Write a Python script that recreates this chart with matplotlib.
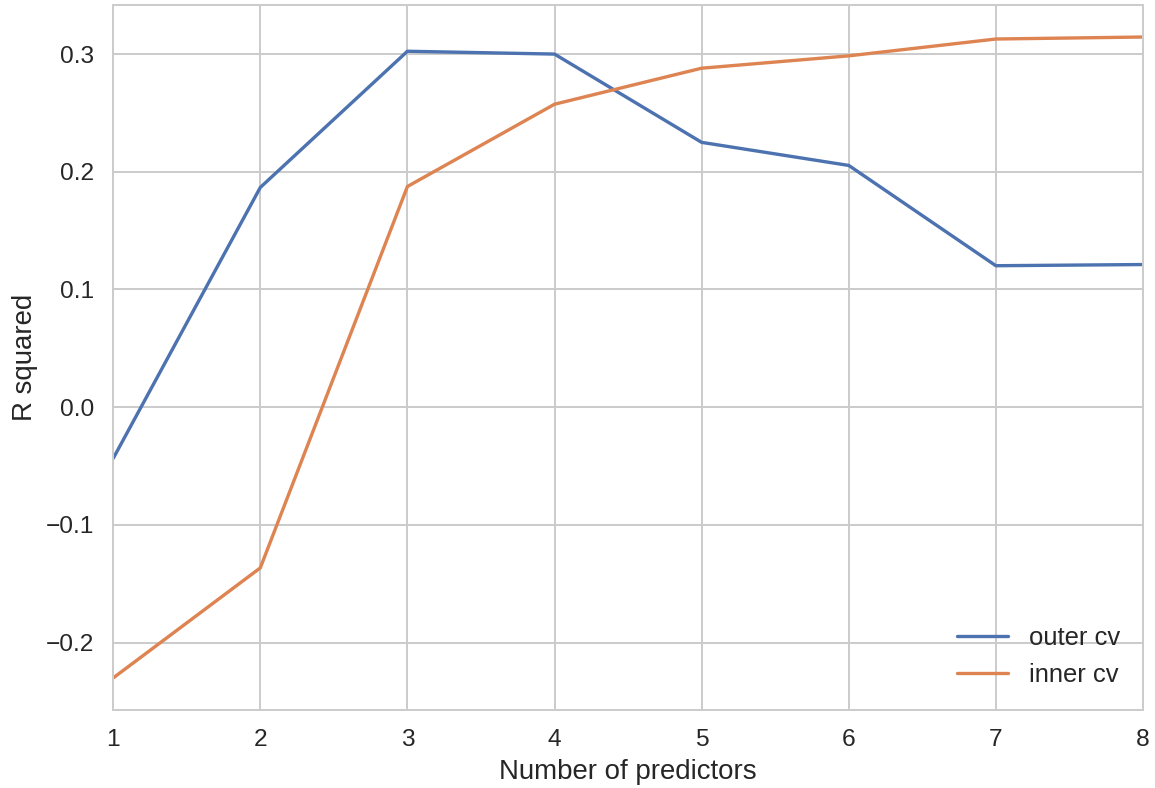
import numpy as np
import matplotlib.pyplot as plt
import seaborn as sns

n_predictors = [1, 2, 3, 4, 5, 6, 7, 8]
outer_cv = [-0.0435, 0.1867, 0.3024, 0.3000, 0.2250, 0.2054, 0.1202, 0.1212]
inner_cv = [-0.2300, -0.1365, 0.1875, 0.2574, 0.2880, 0.2985, 0.3128, 0.3145]

sns.set_theme(style="whitegrid")
plt.rcParams['font.family'] = ['Liberation Sans', 'DejaVu Sans']

dpi = 142
fig, ax = plt.subplots(figsize=(1155 / dpi, 788 / dpi), dpi=dpi)
ax.plot(n_predictors, outer_cv, color="#4C72B0", linewidth=1.7, label="outer cv")
ax.plot(n_predictors, inner_cv, color="#DD8452", linewidth=1.7, label="inner cv")
ax.set_xlim(1, 8)
ax.set_xlabel("Number of predictors", fontsize=14)
ax.set_ylabel("R squared", fontsize=14)
ax.tick_params(labelsize=12.4)
for s in ax.spines.values():
    s.set_color("#cccccc")
    s.set_linewidth(1.0)
ax.grid(color="#cccccc", linewidth=1.0)
ax.legend(loc="lower right", frameon=False, fontsize=13)

fig.subplots_adjust(left=0.098, right=0.9896, top=0.9937, bottom=0.099)
fig.savefig("out.png", dpi=dpi)
